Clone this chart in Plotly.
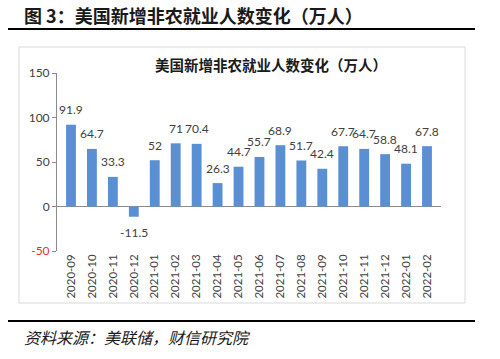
import plotly.graph_objects as go

categories = ["2020-09", "2020-10", "2020-11", "2020-12", "2021-01", "2021-02", "2021-03",
              "2021-04", "2021-05", "2021-06", "2021-07", "2021-08", "2021-09", "2021-10",
              "2021-11", "2021-12", "2022-01", "2022-02"]
values = [91.9, 64.7, 33.3, -11.5, 52, 71, 70.4, 26.3, 44.7, 55.7, 68.9, 51.7, 42.4,
          67.7, 64.7, 58.8, 48.1, 67.8]
tick_vals = [-50, 0, 50, 100, 150]
tick_text = ["<span style='color:#e03030'>-50</span>", "0", "50", "100", "150"]

W, H = 500, 359
PL, PR, PT, PB = 57, 441, 73, 251          # plot area in page pixels
L, R, T, B = PL, W - PR, PT, H - PB
PW, PH = W - L - R, H - T - B

def px(x):
    return (x - L) / PW

def py(y):
    return (H - B - y) / PH

fig = go.Figure()
fig.add_trace(go.Bar(
    x=categories, y=values,
    marker=dict(color="#5b8fd3", line=dict(width=0)),
    width=0.47,
    cliponaxis=False,
    hoverinfo="skip",
))

annotations = []
for c, v in zip(categories, values):
    annotations.append(dict(
        x=c, y=v, xref="x", yref="y", text=f"{v:g}", showarrow=False,
        yanchor="middle", yshift=15 if v >= 0 else -16,
        font=dict(family="Lato, Open Sans, sans-serif", size=12, color="#404040"),
    ))

annotations += [
    dict(text="<b>图 3：美国新增非农就业人数变化（万人）</b>", xref="paper", yref="paper",
         x=px(22), y=py(15.5), xanchor="left", yanchor="middle", showarrow=False,
         font=dict(family="Noto Sans CJK SC", size=18, color="#1a1a1a")),
    dict(text="<b>美国新增非农就业人数变化（万人）</b>", xref="paper", yref="paper",
         x=px(271), y=py(65), xanchor="center", yanchor="middle", showarrow=False,
         font=dict(family="Noto Sans CJK SC", size=14.5, color="#1a1a1a")),
    dict(text="资料来源：美联储，财信研究院", xref="paper", yref="paper",
         x=px(22), y=py(337), xanchor="left", yanchor="middle", showarrow=False,
         font=dict(family="Noto Sans CJK SC", size=16, color="#1a1a1a", style="italic")),
]

fig.update_layout(
    width=W, height=H,
    margin=dict(l=L, r=R, t=T, b=B, pad=0, autoexpand=False),
    paper_bgcolor="white", plot_bgcolor="white",
    showlegend=False,
    xaxis=dict(
        type="category", showgrid=False, showline=False, zeroline=False,
        tickangle=-90, ticks="", automargin=False,
        tickfont=dict(family="Lato, Open Sans, sans-serif", size=11.5, color="#404040"),
    ),
    yaxis=dict(
        range=[-50, 150], tickvals=tick_vals, ticktext=tick_text, automargin=False,
        showgrid=False, showline=True, linecolor="#8c8c8c", linewidth=1,
        ticks="outside", ticklen=4, tickcolor="#8c8c8c",
        zeroline=True, zerolinecolor="#8c8c8c", zerolinewidth=1,
        tickfont=dict(family="Lato, Open Sans, sans-serif", size=12, color="#404040"),
    ),
    annotations=annotations,
    shapes=[
        dict(type="line", xref="paper", yref="paper", x0=px(8), x1=px(475), y0=py(29), y1=py(29),
             line=dict(color="black", width=2)),
        dict(type="line", xref="paper", yref="paper", x0=px(8), x1=px(475), y0=py(321), y1=py(321),
             line=dict(color="black", width=2)),
        dict(type="rect", xref="paper", yref="paper", x0=px(19), x1=px(465), y0=py(47), y1=py(303),
             line=dict(color="#d9d9d9", width=1), layer="below"),
    ],
)

fig.write_html("out.html", config={"displayModeBar": False},
               post_script="document.body.style.margin='0';")
